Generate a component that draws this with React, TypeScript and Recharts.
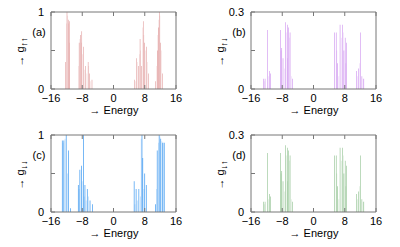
import React from 'react';
import { ComposedChart, Bar, XAxis, YAxis } from 'recharts';

// Energy axis ticks
const xTicks = [-16, -8, 0, 8, 16];

// Panel (a): g↑↑
const aDarkE = [-12.2, -11.9, -11.6, -11.3, -8.8, -8.4, -8.1, -7.7, -7.1, -6.5, -6.1, -5.5, 5.4, 5.9, 6.4, 6.8, 7.2, 7.6, 8.0, 8.5, 8.9, 10.8, 11.2, 11.5, 11.7, 12.1, 12.5];
const aDarkV = [0.35, 1.0, 0.9, 0.88, 0.6, 0.7, 0.75, 0.55, 0.3, 0.35, 0.2, 0.12, 0.12, 0.4, 0.3, 0.65, 0.3, 0.88, 0.6, 0.55, 0.2, 0.1, 0.5, 0.8, 1.0, 0.6, 0.2];
const aLightE = [-12.1, -11.8, -11.5, -11.2, -9.0, -8.6, -8.2, -7.9, -7.4, -6.8, -6.3, -5.8, 5.6, 6.1, 6.6, 7.0, 7.4, 7.8, 8.2, 8.7, 11.0, 11.3, 11.6, 11.9, 12.3];
const aLightV = [0.85, 0.95, 0.85, 0.6, 0.3, 0.65, 0.6, 0.45, 0.25, 0.2, 0.3, 0.1, 0.1, 0.35, 0.45, 0.5, 0.8, 0.7, 0.5, 0.35, 0.3, 0.7, 0.9, 0.95, 0.5];

// Panels (b) g↑↓ and (d) g↓↑
const bDarkE = [-12.85, -12.4, -11.7, -11.3, -11.0, -8.5, -8.1, -7.8, -7.2, -6.7, -6.4, -6.0, -5.4, 5.4, 5.8, 6.2, 6.8, 7.5, 7.8, 8.1, 8.5, 11.0, 11.5, 12.1, 12.4, 12.9];
const bDarkV = [0.04, 0.04, 0.23, 0.07, 0.06, 0.23, 0.16, 0.12, 0.26, 0.25, 0.24, 0.22, 0.04, 0.22, 0.22, 0.1, 0.25, 0.25, 0.15, 0.2, 0.18, 0.07, 0.08, 0.22, 0.05, 0.04];
const bLightE = [-12.6, -11.5, -8.3, -7.5, -7.0, -6.6, -6.2, -5.7, 6.0, 6.5, 7.1, 7.6, 8.3, 11.3, 11.8, 12.7];
const bLightV = [0.03, 0.05, 0.15, 0.08, 0.22, 0.12, 0.2, 0.05, 0.15, 0.05, 0.2, 0.22, 0.1, 0.05, 0.1, 0.04];

// Panel (c): g↓↓
const cDarkE = [-13.1, -12.7, -12.1, -11.5, -11.0, -9.0, -8.6, -8.2, -7.7, -7.3, -6.7, -6.0, -5.4, 5.3, 5.8, 6.5, 7.3, 7.5, 8.0, 8.4, 10.8, 11.2, 11.7, 12.1, 12.6, 13.0];
const cDarkV = [0.93, 0.93, 1.0, 0.8, 0.05, 0.35, 0.55, 0.6, 1.0, 0.35, 0.3, 0.15, 0.1, 0.4, 0.3, 0.3, 1.0, 0.7, 0.5, 0.35, 0.1, 0.8, 1.0, 0.95, 0.9, 0.9];
const cLightE = [-12.9, -12.4, -11.8, -8.8, -8.0, -7.5, -7.0, -6.4, 5.5, 6.1, 6.9, 7.1, 7.8, 11.0, 11.5, 11.9, 12.4, 12.8];
const cLightV = [0.9, 0.95, 0.5, 0.3, 0.4, 0.2, 0.15, 0.2, 0.1, 0.15, 0.2, 0.95, 0.3, 0.3, 0.9, 0.98, 0.92, 0.9];

const FONT = '"Liberation Sans", Arial, sans-serif';
const FRAME = '#777777';

const fmtX = (v: number) => (v < 0 ? '\u2212' + Math.abs(v) : String(v));

function buildData(dE: number[], dV: number[], lE: number[], lV: number[]) {
  const rows: any[] = [];
  dE.forEach((e, i) => rows.push({ e, dark: dV[i] }));
  lE.forEach((e, i) => rows.push({ e, light: lV[i] }));
  rows.sort((p, q) => p.e - q.e);
  return rows;
}

const BottomTick = (props: any) => {
  const { x, y, payload } = props;
  return (
    <g>
      <line x1={x} x2={x} y1={y} y2={y - 4} stroke={FRAME} strokeWidth={1} />
      <text x={x} y={y + 13} textAnchor="middle" fontSize={11} fontFamily={FONT} fill="#000">
        {fmtX(payload.value)}
      </text>
    </g>
  );
};

const TopTick = (props: any) => {
  const { x, y } = props;
  return <line x1={x} x2={x} y1={y} y2={y + 4} stroke={FRAME} strokeWidth={1} />;
};

const makeLeftTick = (max: number, label: string) => (props: any) => {
  const { x, y, payload } = props;
  const v = payload.value;
  const txt = v === 0 ? '0' : v === max ? label : '';
  return (
    <g>
      <line x1={x} x2={x + 4} y1={y} y2={y} stroke={FRAME} strokeWidth={1} />
      {txt && (
        <text x={x - 7} y={y + 4} textAnchor="end" fontSize={11} fontFamily={FONT} fill="#000">
          {txt}
        </text>
      )}
    </g>
  );
};

const RightTick = (props: any) => {
  const { x, y } = props;
  return <line x1={x} x2={x - 4} y1={y} y2={y} stroke={FRAME} strokeWidth={1} />;
};

type PanelProps = {
  left: number;
  top: number;
  height: number;
  data: any[];
  color: string;
  max: number;
  maxLabel: string;
  tag: string;
  sub: string;
};

function Panel({ left, top, height, data, color, max, maxLabel, tag, sub }: PanelProps) {
  const LeftTick = makeLeftTick(max, maxLabel);
  return (
    <div style={{ position: 'absolute', left, top, width: 200, height }}>
      <ComposedChart
        width={200}
        height={height}
        data={data}
        margin={{ top: 11, right: 23, bottom: height - 90, left: 50 }}
      >
        <XAxis
          dataKey="e"
          type="number"
          domain={[-16, 16]}
          ticks={xTicks}
          height={1}
          tickSize={0}
          tickMargin={0}
          tick={<BottomTick />}
          axisLine={{ stroke: FRAME }}
          tickLine={false}
          interval={0}
        />
        <XAxis
          xAxisId="top"
          orientation="top"
          dataKey="e"
          type="number"
          domain={[-16, 16]}
          ticks={xTicks}
          height={1}
          tickSize={0}
          tickMargin={0}
          tick={<TopTick />}
          axisLine={{ stroke: FRAME }}
          tickLine={false}
          interval={0}
        />
        <YAxis
          type="number"
          domain={[0, max]}
          ticks={[0, max / 2, max]}
          width={1}
          tickSize={0}
          tickMargin={0}
          tick={<LeftTick />}
          axisLine={{ stroke: FRAME }}
          tickLine={false}
          allowDataOverflow
          interval={0}
        />
        <YAxis
          yAxisId="r"
          orientation="right"
          type="number"
          domain={[0, max]}
          ticks={[0, max / 2, max]}
          width={1}
          tickSize={0}
          tickMargin={0}
          tick={<RightTick />}
          axisLine={{ stroke: FRAME }}
          tickLine={false}
          interval={0}
        />
        <Bar
          xAxisId="top"
          dataKey="light"
          fill={color}
          fillOpacity={0.3}
          barSize={2}
          isAnimationActive={false}
        />
        <Bar dataKey="dark" fill={color} fillOpacity={0.9} barSize={1} isAnimationActive={false} />
      </ComposedChart>
      <div
        style={{
          position: 'absolute',
          left: 39,
          top: 32,
          transform: 'translate(-50%, -50%)',
          fontFamily: FONT,
          fontSize: 11,
          lineHeight: '12px',
          whiteSpace: 'nowrap',
        }}
      >
        {tag}
      </div>
      <div
        style={{
          position: 'absolute',
          left: 20,
          top: 52,
          transform: 'translate(-50%, -50%) rotate(-90deg)',
          fontFamily: FONT,
          fontSize: 11,
          lineHeight: '12px',
          whiteSpace: 'nowrap',
        }}
      >
        {'\u2192 g'}
        <span style={{ fontSize: 9, position: 'relative', top: 3 }}>{sub}</span>
      </div>
      <div
        style={{
          position: 'absolute',
          left: 114,
          top: 110,
          transform: 'translate(-50%, -50%)',
          fontFamily: FONT,
          fontSize: 11,
          lineHeight: '12px',
          whiteSpace: 'nowrap',
        }}
      >
        {'\u2192 Energy'}
      </div>
    </div>
  );
}

const dataA = buildData(aDarkE, aDarkV, aLightE, aLightV);
const dataB = buildData(bDarkE, bDarkV, bLightE, bLightV);
const dataC = buildData(cDarkE, cDarkV, cLightE, cLightV);

export default function App() {
  return (
    <div style={{ position: 'absolute', left: 0, top: 0, width: 400, height: 247, background: '#fff' }}>
      <Panel left={0} top={0} height={123} data={dataA} color="#c84a4a" max={1} maxLabel="1" tag="(a)" sub={'\u2191\u2191'} />
      <Panel left={200} top={0} height={123} data={dataB} color="#a030e0" max={0.3} maxLabel="0.3" tag="(b)" sub={'\u2191\u2193'} />
      <Panel left={0} top={123} height={124} data={dataC} color="#2a8ff0" max={1} maxLabel="1" tag="(c)" sub={'\u2193\u2193'} />
      <Panel left={200} top={123} height={124} data={dataB} color="#2e8b2e" max={0.3} maxLabel="0.3" tag="(d)" sub={'\u2193\u2191'} />
    </div>
  );
}
